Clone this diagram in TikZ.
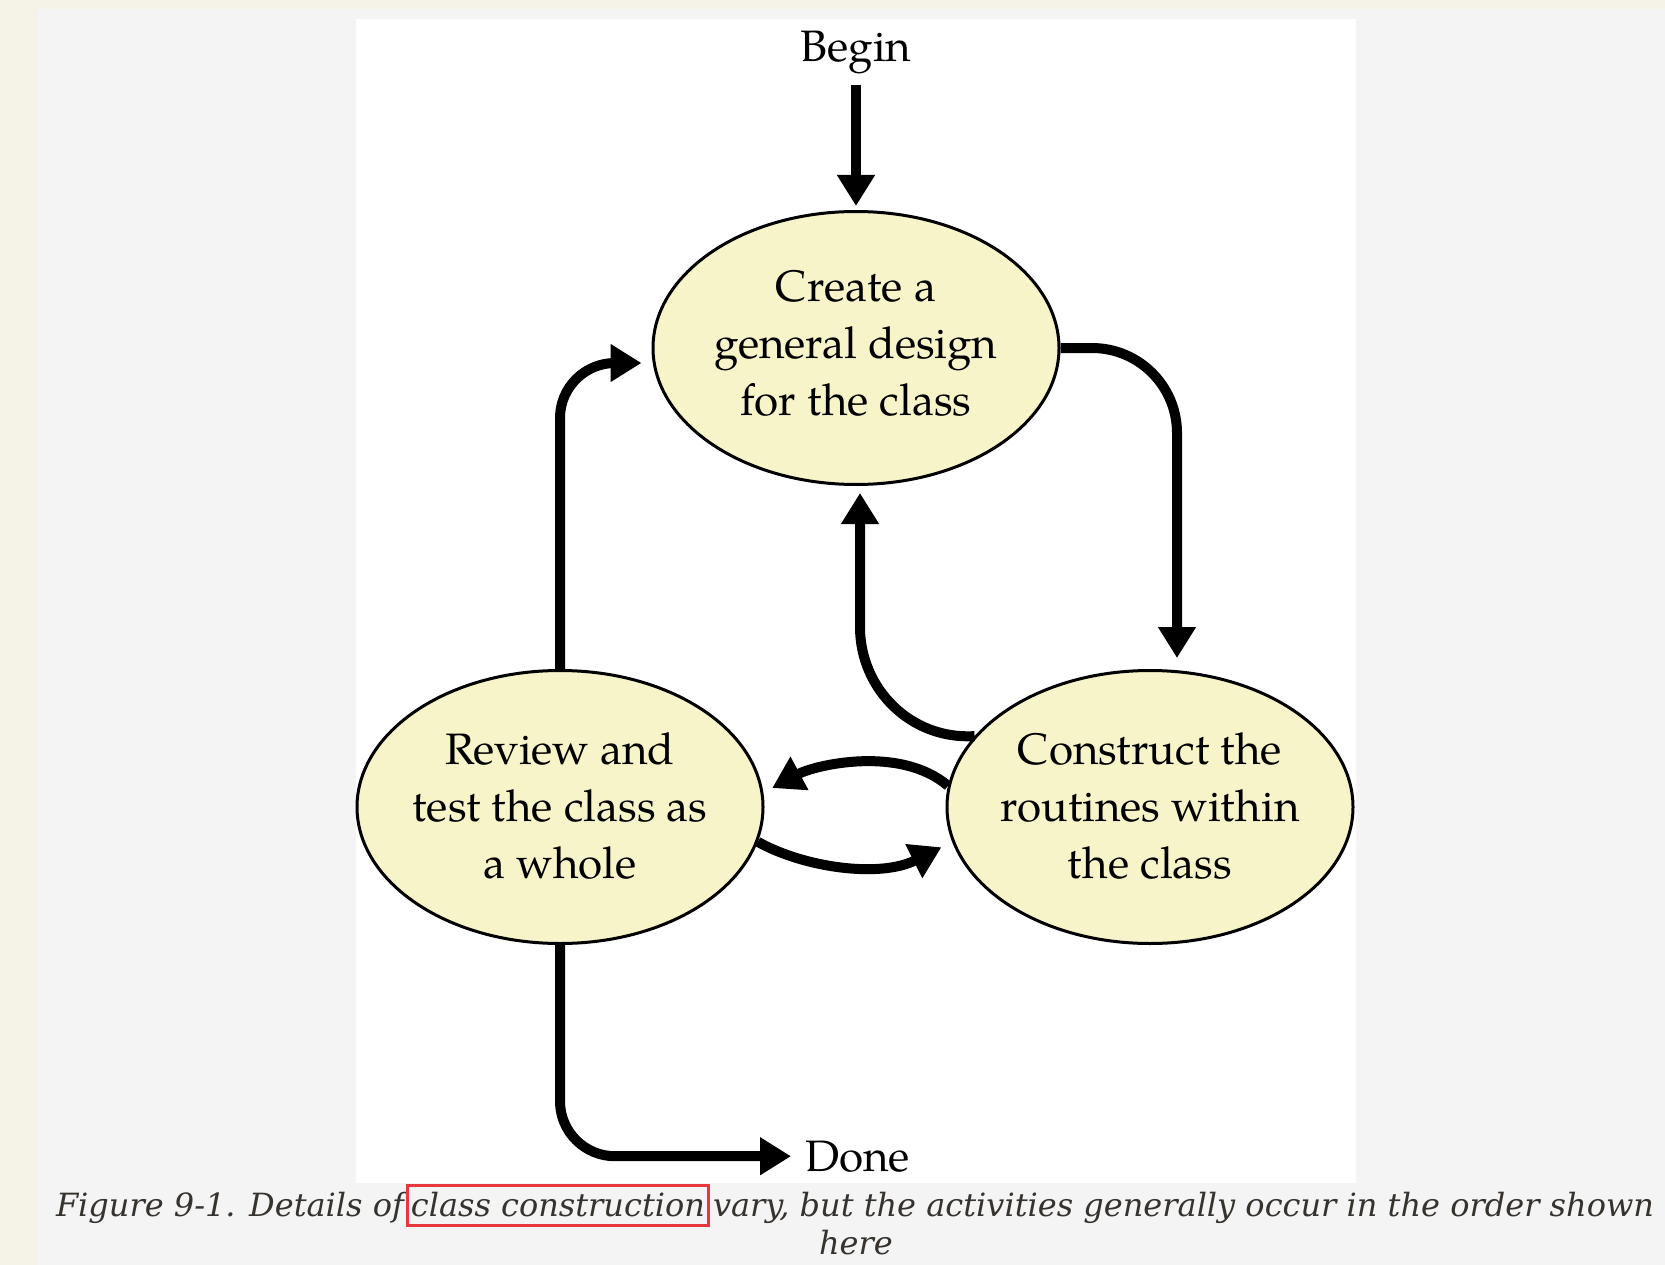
\documentclass[tikz,border=0pt]{standalone}
\usepackage{fontspec}
\usetikzlibrary{arrows.meta,shapes.geometric,calc}
\newfontfamily\diagfont{TeX Gyre Pagella}
\newfontfamily\capfont{DejaVu Serif}
\definecolor{pagebg}{HTML}{F5F3E7}
\definecolor{panelbg}{HTML}{F4F4F4}
\definecolor{ellfill}{HTML}{F6F4C8}
\definecolor{captext}{HTML}{36322E}
\definecolor{markred}{HTML}{E8383D}
\begin{document}
\begin{tikzpicture}[x=1pt,y=-1pt,
  stage/.style={ellipse, draw=black, line width=3pt, fill=ellfill,
    minimum width=406pt, minimum height=273pt, inner sep=0pt},
  stagetext/.style={align=center, inner sep=0pt,
    font=\diagfont\fontsize{44}{57}\selectfont},
  term/.style={font=\diagfont\fontsize{44}{50}\selectfont, inner sep=0pt},
  flow/.style={line width=10pt, -{Triangle[length=31pt,width=36pt]}},
  captionstyle/.style={font=\capfont\itshape\fontsize{32}{38}\selectfont, text=captext, inner sep=0pt, anchor=base},
]
\useasboundingbox (0,0) rectangle (1665,1265);
\fill[pagebg] (0,0) rectangle (1665,1265);
\fill[panelbg] (38,9) rectangle (1665,1265);
\fill[white] (356,19) rectangle (1356,1183);

\node[stage, label={[stagetext, yshift=5pt]center:Create a\\general design\\for the class}] (create) at (856,348) {};
\node[stage, label={[stagetext, yshift=1pt]center:Review and\\test the class as\\a whole}] (review) at (560,807) {};
\node[stage, label={[stagetext, yshift=1pt]center:Construct the\\routines within\\the class}] (construct) at (1150,807) {};
\node[term, anchor=base] (begin) at (856,62) {Begin};
\node[term, anchor=base west] (done) at (805,1171) {Done};

\draw[flow, shorten <=10pt, shorten >=4pt] (begin.south) -- (begin.south |- create.north);
\draw[flow, rounded corners=85pt, shorten >=11pt] (create.east) -| ([xshift=27pt]construct.north);
\draw[flow, rounded corners=55pt, shorten >=10pt] (review.north) |- ([yshift=-15pt]create.west);
\draw[flow, shorten >=7pt] (construct.158) .. controls (911,740) and (860,689) .. (860,627) -- ([xshift=4pt]create.south);
\draw[flow, shorten >=10pt] (construct.174) .. controls (900,745) and (815,765) .. (review.4);
\draw[flow, shorten >=12pt] (review.-10) .. controls (805,868) and (880,878) .. (construct.190);
\draw[flow, rounded corners=55pt, shorten >=14pt] (review.south) |- (done.west);

\node[captionstyle] (caption1) at (855,1216) {Figure 9-1. Details of\hspace{2pt}{\color{markred}\fboxrule=3pt\fboxsep=2pt\fbox{\rule[-5.5pt]{0pt}{32.3pt}\color{captext}class construction}}\hspace{3pt}vary, but the activities generally occur in the order shown};
\node[captionstyle] (caption2) at (856,1254) {here};
\end{tikzpicture}
\end{document}
